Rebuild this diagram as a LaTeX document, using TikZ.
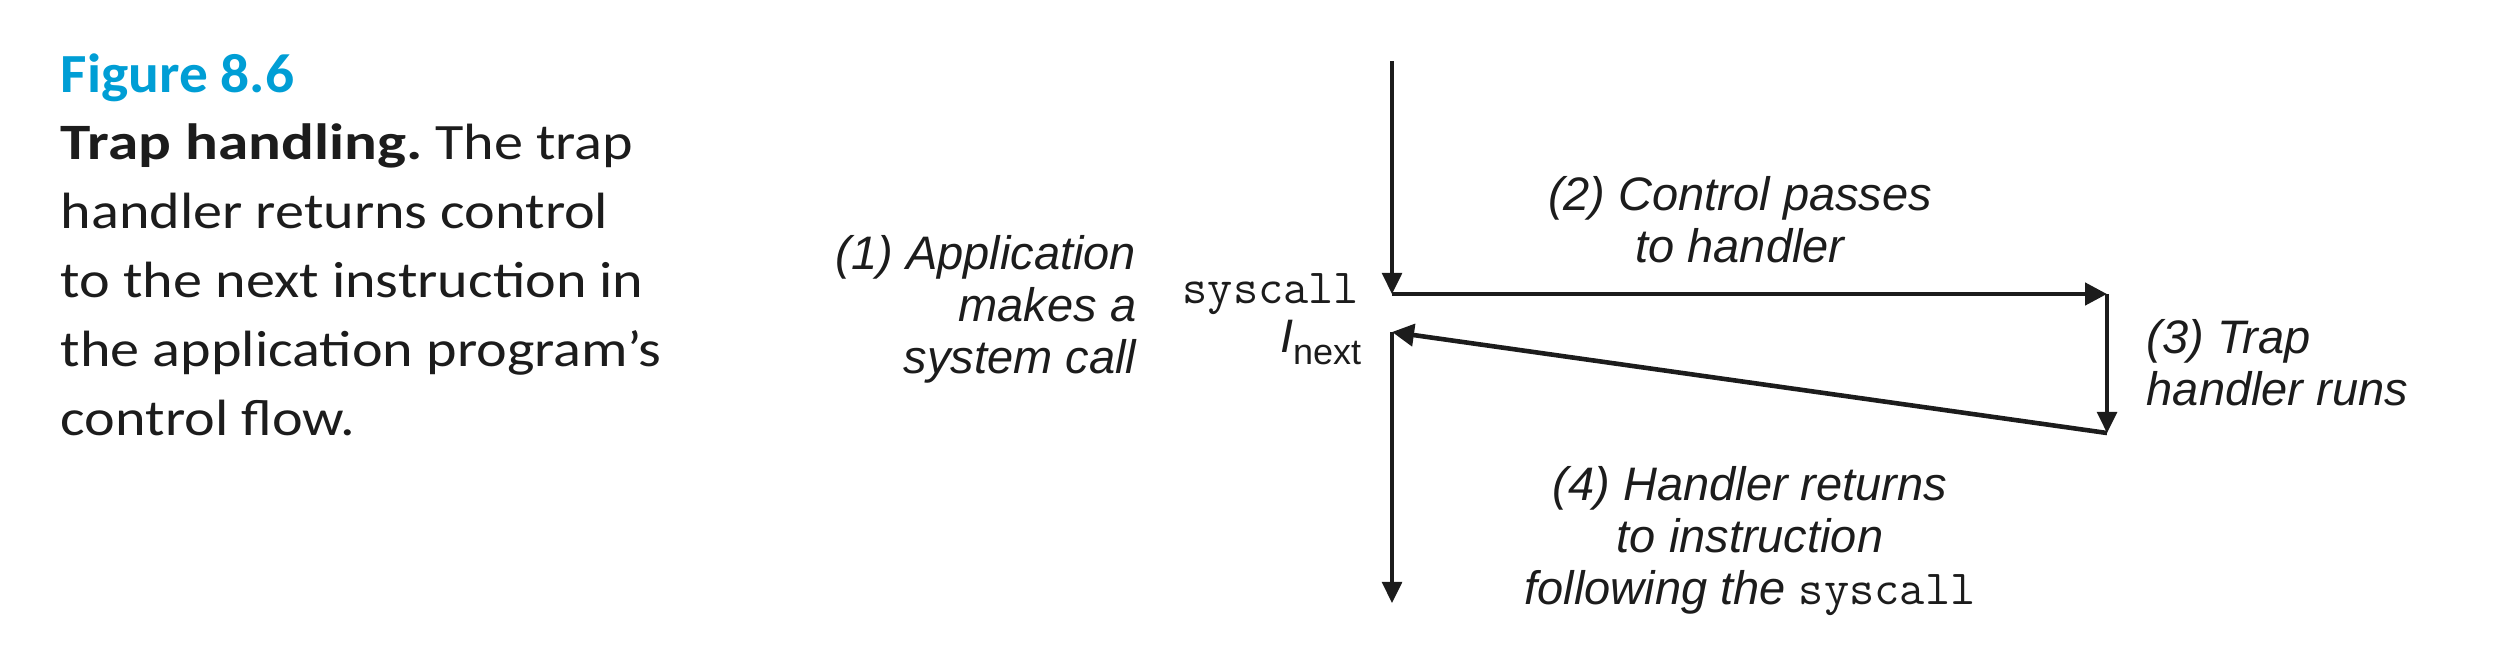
\documentclass[tikz,border=0pt]{standalone}
\usepackage{fontspec}
\setmainfont{Carlito}
\newfontfamily\capfont[FakeStretch=1.14]{Carlito}
\newfontfamily\capboldfont[FakeStretch=1.2]{Carlito Bold}
\newfontfamily\figfont[FakeStretch=1.04]{Carlito Bold}
\newfontfamily\dfont{Liberation Sans}
\usetikzlibrary{arrows.meta}
\definecolor{figblue}{RGB}{0,158,213}
\definecolor{ink}{RGB}{28,28,28}
\begin{document}
\frenchspacing
\begin{tikzpicture}[x=0.25pt,y=-0.25pt,
  lbl/.style={inner sep=0pt, text=ink, font=\dfont\itshape\fontsize{11.75pt}{12.9pt}\selectfont},
  mono/.style={inner sep=0pt, text=ink, font=\ttfamily\fontsize{12.25pt}{13pt}\selectfont},
  captext/.style={inner sep=0pt, text=ink, anchor=base west, font=\capfont\fontsize{12.75pt}{17.2pt}\selectfont},
  flowthin/.style={draw=ink, line width=0.8pt, -{Triangle[length=5.3pt,width=5pt]}},
  flowthick/.style={draw=ink, line width=1.15pt, -{Triangle[length=5.5pt,width=5.5pt]}}]
\useasboundingbox (0,0) rectangle (2516,664);
% caption
\node[captext, text=figblue, font=\figfont\fontsize{13.8pt}{17pt}\selectfont] (fig) at (60,93) {Figure 8.6};
\node[captext, align=left] (captxt) at (60,435) {{\capboldfont Trap handling.} The trap\\handler returns control\\to the next instruction in\\the application program’s\\control flow.};
% coordinates
\coordinate (top) at (1392,61);
\coordinate (sys) at (1392,294);
\coordinate (hnd) at (2107,294);
\coordinate (hend) at (2107,433);
\coordinate (inext) at (1392,332);
\coordinate (bot) at (1392,603);
% labels
\node[mono, anchor=base east] (sc) at (1360,303) {syscall};
\node[lbl, anchor=base east] (in) at (1362,352) {I{\upshape\fontsize{9pt}{10pt}\selectfont\raisebox{-3.2pt}{next}}};
\node[lbl, anchor=base east, align=right] (t1) at (1137,373) {(1) Application\\makes a\\system call};
\node[lbl, anchor=base, align=center] (t2) at (1740,262) {(2) Control passes\\to handler};
\node[lbl, anchor=base west, align=left] (t3) at (2146,405) {(3) Trap\\handler runs};
\node[lbl, anchor=base, align=center] (t4) at (1750,604) {(4) Handler returns\\to instruction\\following the {\upshape\ttfamily\fontsize{12.25pt}{13pt}\selectfont syscall}};
% flow
\draw[flowthin] (top) -- (sys);
\draw[flowthick] (sys) -- (hnd);
\draw[flowthin] (hnd) -- (hend);
\draw[flowthick] (hend) -- (inext);
\draw[flowthin] (inext) -- (bot);
\end{tikzpicture}
\end{document}
